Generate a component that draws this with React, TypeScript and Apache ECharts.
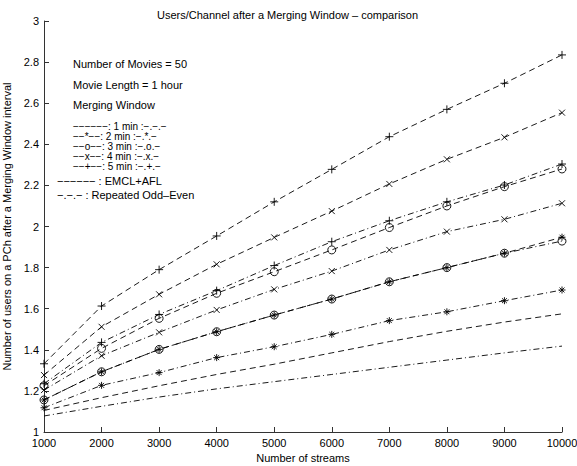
import React, { useEffect, useRef } from "react";
import * as echarts from "echarts";

const streams = [1000, 2000, 3000, 4000, 5000, 6000, 7000, 8000, 9000, 10000];
const yTicks = [1, 1.2, 1.4, 1.6, 1.8, 2, 2.2, 2.4, 2.6, 2.8, 3];

// EMCL+AFL (dashed)
const emcl1 = [1.105, 1.167, 1.225, 1.28, 1.33, 1.385, 1.44, 1.49, 1.535, 1.575];
const emcl2 = [1.156, 1.293, 1.402, 1.488, 1.569, 1.647, 1.731, 1.8, 1.87, 1.948];
const emcl3 = [1.225, 1.407, 1.553, 1.675, 1.78, 1.886, 1.995, 2.1, 2.194, 2.28];
const emcl4 = [1.277, 1.512, 1.67, 1.816, 1.947, 2.075, 2.207, 2.327, 2.434, 2.554];
const emcl5 = [1.332, 1.613, 1.79, 1.954, 2.12, 2.278, 2.437, 2.57, 2.697, 2.835];

// Repeated Odd-Even (dash-dot)
const oe1 = [1.078, 1.125, 1.17, 1.21, 1.245, 1.28, 1.315, 1.35, 1.385, 1.418];
const oe2 = [1.118, 1.227, 1.289, 1.362, 1.415, 1.475, 1.542, 1.585, 1.639, 1.691];
const oe3 = [1.156, 1.293, 1.402, 1.488, 1.569, 1.647, 1.731, 1.8, 1.87, 1.929];
const oe4 = [1.204, 1.371, 1.485, 1.594, 1.694, 1.783, 1.886, 1.975, 2.035, 2.113];
const oe5 = [1.235, 1.436, 1.572, 1.688, 1.81, 1.926, 2.028, 2.12, 2.202, 2.304];

const titleText = "Users/Channel after a Merging Window \u2013 comparison";
const xName = "Number of streams";
const yName = "Number of users on a PCh after a Merging Window interval";
const noteLines = ["Number of Movies = 50", "Movie Length = 1 hour", "Merging Window"];
const M = "\u2212";
const keyLines = [
  `${M}${M}${M}${M}${M}${M}: 1 min :${M}.${M}.${M}`,
  `${M}${M}*${M}${M}: 2 min :${M}.*.${M}`,
  `${M}${M}o${M}${M}: 3 min :${M}.o.${M}`,
  `${M}${M}x${M}${M}: 4 min :${M}.x.${M}`,
  `${M}${M}+${M}${M}: 5 min :${M}.+.${M}`,
];
const methodLines = [
  `${M}${M}${M}${M}${M}${M} : EMCL+AFL`,
  `${M}.${M}.${M} : Repeated Odd\u2013Even`,
];

const FONT = '"Liberation Sans", Arial, Helvetica, sans-serif';
const PLUS = "path://M5,0L5,10M0,5L10,5";
const CROSS = "path://M0,0L10,10M10,0L0,10";
const STAR = "path://M5,0L5,10M0,5L10,5M1.5,1.5L8.5,8.5M8.5,1.5L1.5,8.5";

const DASH = [6, 4];
const DASHDOT = [6, 3, 1, 3];

function mk(name: string, vals: number[], dash: number[], symbol: string, size: number) {
  return {
    name,
    type: "line",
    data: streams.map((s, i) => [s, vals[i]]),
    showSymbol: symbol !== "none",
    symbol: symbol === "none" ? "none" : symbol,
    symbolSize: size,
    lineStyle: { color: "#000", width: 0.9, type: dash },
    itemStyle: { color: "rgba(0,0,0,0)", borderColor: "#000", borderWidth: 0.9 },
    emphasis: { disabled: true },
    silent: true,
    z: 2,
  };
}

export default function App() {
  const ref = useRef<HTMLDivElement>(null);
  useEffect(() => {
    if (!ref.current) return;
    const chart = echarts.init(ref.current, undefined, { renderer: "svg" });
    const graphics: any[] = [];
    const noteY = [64, 85, 105];
    noteLines.forEach((t, i) =>
      graphics.push({
        type: "text",
        x: 73,
        y: noteY[i],
        style: { text: t, font: `11px ${FONT}`, fill: "#000", verticalAlign: "middle" },
      })
    );
    const keyY = [126.5, 136.5, 146.5, 156.5, 166.5];
    keyLines.forEach((t, i) =>
      graphics.push({
        type: "text",
        x: 73,
        y: keyY[i],
        style: { text: t, font: `10px ${FONT}`, fill: "#000", verticalAlign: "middle" },
      })
    );
    const methY = [181, 194.5];
    methodLines.forEach((t, i) =>
      graphics.push({
        type: "text",
        x: 57,
        y: methY[i],
        style: { text: t, font: `11px ${FONT}`, fill: "#000", verticalAlign: "middle" },
      })
    );

    chart.setOption({
      animation: false,
      backgroundColor: "#fff",
      title: {
        text: titleText,
        left: 152,
        top: 4,
        textStyle: { fontFamily: FONT, fontSize: 11, fontWeight: "normal", color: "#000" },
      },
      grid: { left: 44, right: 15, top: 21, bottom: 34, outerBoundsMode: "none", containLabel: false },
      xAxis: {
        type: "value",
        min: 1000,
        max: 10000,
        interval: 1000,
        name: xName,
        nameLocation: "middle",
        nameGap: 17,
        nameTextStyle: { fontFamily: FONT, fontSize: 11, color: "#000" },
        axisLine: { show: true, onZero: false, lineStyle: { color: "#333", width: 1 } },
        axisTick: { show: true, inside: true, length: 5, lineStyle: { color: "#333" } },
        axisLabel: {
          fontFamily: FONT,
          fontSize: 11,
          color: "#000",
          margin: 5,
          formatter: (v: number) => String(v),
          showMaxLabel: true,
          showMinLabel: true,
        },
        splitLine: { show: false },
      },
      yAxis: {
        type: "value",
        min: yTicks[0],
        max: yTicks[yTicks.length - 1],
        interval: 0.2,
        name: yName,
        nameLocation: "middle",
        nameGap: 29,
        nameTextStyle: { fontFamily: FONT, fontSize: 11, color: "#000" },
        axisLine: { show: true, onZero: false, lineStyle: { color: "#333", width: 1 } },
        axisTick: { show: true, inside: true, length: 5, lineStyle: { color: "#333" } },
        axisLabel: {
          fontFamily: FONT,
          fontSize: 11,
          color: "#000",
          margin: 5,
          formatter: (v: number) => String(Math.round(v * 10) / 10),
        },
        splitLine: { show: false },
      },
      graphic: graphics,
      series: [
        mk("1 min EMCL+AFL", emcl1, DASH, "none", 0),
        mk("2 min EMCL+AFL", emcl2, DASH, STAR, 7),
        mk("3 min EMCL+AFL", emcl3, DASH, "circle", 8),
        mk("4 min EMCL+AFL", emcl4, DASH, CROSS, 6),
        mk("5 min EMCL+AFL", emcl5, DASH, PLUS, 8),
        mk("1 min Repeated Odd-Even", oe1, DASHDOT, "none", 0),
        mk("2 min Repeated Odd-Even", oe2, DASHDOT, STAR, 7),
        mk("3 min Repeated Odd-Even", oe3, DASHDOT, "circle", 8),
        mk("4 min Repeated Odd-Even", oe4, DASHDOT, CROSS, 6),
        mk("5 min Repeated Odd-Even", oe5, DASHDOT, PLUS, 8),
      ],
    });
    return () => chart.dispose();
  }, []);
  return (
    <div
      ref={ref}
      style={{ position: "fixed", left: 0, top: 0, width: 577, height: 466, background: "#fff" }}
    />
  );
}
